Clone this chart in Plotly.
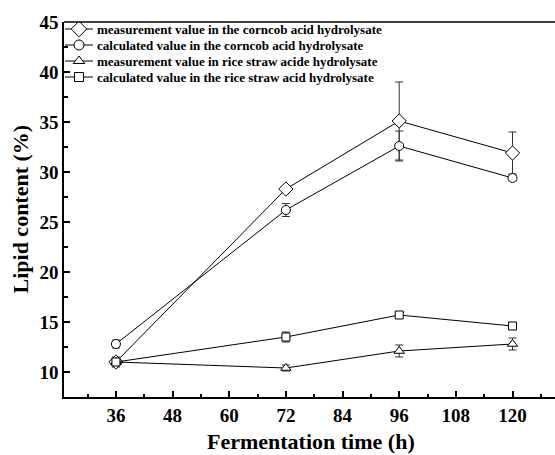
import plotly.graph_objects as go

time_h = [36, 72, 96, 120]

corncob_measured = [11.0, 28.3, 35.1, 31.9]
corncob_measured_err = [0.5, 0.3, 3.9, 2.1]

corncob_calculated = [12.8, 26.2, 32.6, 29.4]
corncob_calculated_err = [0.4, 0.65, 1.5, 0.3]

rice_measured = [11.0, 10.4, 12.1, 12.8]
rice_measured_err = [0.3, 0.3, 0.6, 0.6]

rice_calculated = [11.0, 13.5, 15.7, 14.6]
rice_calculated_err = [0.3, 0.5, 0.2, 0.3]

series_names = [
    "measurement value in the corncob acid hydrolysate",
    "calculated value in the corncob acid hydrolysate",
    "measurement value in rice straw acide hydrolysate",
    "calculated value in the rice straw acid hydrolysate",
]

x_ticks = [36, 48, 60, 72, 84, 96, 108, 120]
y_ticks = [10, 15, 20, 25, 30, 35, 40, 45]

FONT = "Liberation Serif, Times New Roman, serif"

# plot area in page pixels (body margin removed by post_script)
L, R, T, B = 64, 555, 22, 397
W, H = 555, 455

fig = go.Figure()

specs = [
    (corncob_measured, corncob_measured_err, "diamond", 11),
    (corncob_calculated, corncob_calculated_err, "circle", 9),
    (rice_measured, rice_measured_err, "triangle-up", 9),
    (rice_calculated, rice_calculated_err, "square", 8),
]

for name, (vals, errs, sym, size) in zip(series_names, specs):
    fig.add_trace(go.Scatter(
        x=time_h, y=vals, name=name, mode="lines+markers", showlegend=False,
        line=dict(color="black", width=1),
        marker=dict(symbol=sym, size=size, color="white",
                    line=dict(color="black", width=1)),
        error_y=dict(type="data", array=errs, visible=True,
                     color="#333333", thickness=1, width=4),
    ))

# manual legend on a pixel-scaled overlay axis pair
legend_rows = [29, 45, 61, 77]
annotations = []
for name, (vals, errs, sym, size), ly in zip(series_names, specs, legend_rows):
    fig.add_trace(go.Scatter(
        x=[L + 1, L + 15, L + 29], y=[ly, ly, ly], xaxis="x2", yaxis="y2",
        mode="lines", line=dict(color="black", width=1), showlegend=False,
        hoverinfo="skip",
    ))
    fig.add_trace(go.Scatter(
        x=[L + 15], y=[ly], xaxis="x2", yaxis="y2", mode="markers",
        marker=dict(symbol=sym, size=size + 1, color="white",
                    line=dict(color="black", width=1)),
        showlegend=False, hoverinfo="skip",
    ))
    annotations.append(dict(
        x=L + 31, y=ly, xref="x2", yref="y2", xanchor="left", yanchor="middle",
        text=name, showarrow=False,
        font=dict(family=FONT, size=13, color="black", weight="bold"),
    ))

annotations.append(dict(
    x=0, y=0.5, xref="paper", yref="paper", xshift=-44, xanchor="center",
    yanchor="middle", textangle=-90, text="Lipid content (%)", showarrow=False,
    font=dict(family=FONT, size=22, color="black", weight="bold"),
))
annotations.append(dict(
    x=0.504, y=0, xref="paper", yref="paper", yshift=-44, xanchor="center",
    yanchor="middle", text="Fermentation time (h)", showarrow=False,
    font=dict(family=FONT, size=22, color="black", weight="bold"),
))

fig.update_layout(
    width=W, height=H,
    margin=dict(l=L, r=W - R, t=T, b=H - B, autoexpand=False),
    plot_bgcolor="white", paper_bgcolor="white",
    font=dict(family=FONT, color="black", weight="bold"),
    showlegend=False,
    annotations=annotations,
    shapes=[dict(type="line", xref="paper", yref="paper", x0=0, x1=1, y0=1, y1=1,
                 line=dict(color="black", width=1.5))],
    xaxis2=dict(overlaying="x", range=[L, R], visible=False, fixedrange=True),
    yaxis2=dict(overlaying="y", range=[B, T], visible=False, fixedrange=True),
)

fig.update_layout(xaxis=dict(
    range=[25, 129], tickvals=x_ticks, ticks="inside", ticklen=6, tickwidth=1.5,
    tickcolor="black", showline=True, linecolor="black", linewidth=1.5,
    showgrid=False, zeroline=False, automargin=False,
    minor=dict(dtick=6, tick0=0, ticks="inside", ticklen=3, tickwidth=1.5, tickcolor="black"),
    tickfont=dict(family=FONT, size=19, color="black", weight="bold"),
))
fig.update_layout(yaxis=dict(
    range=[7.5, 45], tickvals=y_ticks, ticks="inside", ticklen=6, tickwidth=1.5,
    tickcolor="black", showline=True, linecolor="black", linewidth=1.5,
    showgrid=False, zeroline=False, automargin=False,
    minor=dict(dtick=2.5, tick0=0, ticks="inside", ticklen=4, tickwidth=1.5, tickcolor="black"),
    tickfont=dict(family=FONT, size=19, color="black", weight="bold"),
))

fig.write_html(
    "out.html",
    config={"displayModeBar": False},
    post_script="document.body.style.margin='0px';document.body.style.overflow='hidden';",
)
